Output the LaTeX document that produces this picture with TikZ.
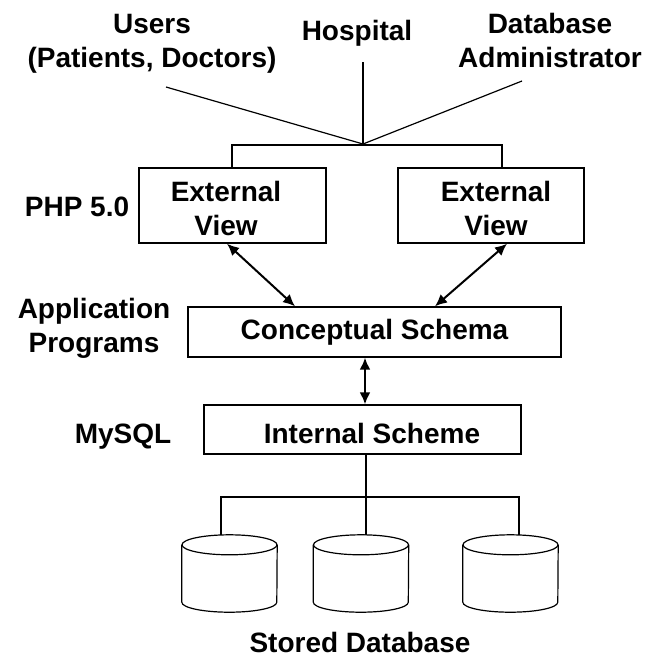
\documentclass[tikz,border=0pt]{standalone}
\usepackage{fontspec}
\setmainfont{Liberation Sans}
\usetikzlibrary{arrows.meta}
\begin{document}
\begin{tikzpicture}[x=1pt,y=-1pt,
  lbl/.style={font=\fontsize{28}{34}\selectfont\bfseries, inner sep=0pt, align=center},
  box/.style={draw, line width=1.4pt, inner sep=0pt, align=center, font=\fontsize{28}{33}\selectfont\bfseries},
  link/.style={line width=1.2pt},
  dlink/.style={line width=2pt, {Latex[length=12pt,width=11pt]}-{Latex[length=12pt,width=11pt]}},
  dbshape/.style={inner sep=0pt, minimum width=95pt, minimum height=77pt},
  cyl/.style={line width=1.2pt}]
\useasboundingbox (0,0) rectangle (661,657);

% top labels (base = baseline of the last line)
\node[lbl, anchor=base] (users) at (152,67) {Users\\(Patients, Doctors)};
\node[lbl, anchor=base] (hospital) at (357,40) {Hospital};
\node[lbl, anchor=base] (dba) at (550,67) {Database\\Administrator};

% side labels
\node[lbl, anchor=base] (php) at (77,216) {PHP 5.0};
\node[lbl, anchor=base] (apps) at (94,352) {Application\\Programs};
\node[lbl, anchor=base] (mysql) at (123,443) {MySQL};

% boxes
\node[box, minimum width=187pt, minimum height=75pt] (ext1) at (232.5,205.5) {};
\node[box, minimum width=186pt, minimum height=75pt] (ext2) at (491,205.5) {};
\node[lbl, anchor=base] (ext1t) at (226,235) {External\\View};
\node[lbl, anchor=base] (ext2t) at (496,235) {External\\View};
\node[box, minimum width=373pt, minimum height=50pt] (concept) at (374.5,332) {Conceptual Schema};
\node[box, minimum width=317pt, minimum height=49pt] (ischema) at (362.5,429.5) {};
\node[lbl, anchor=base] (ischemat) at (372,443) {Internal Scheme};

% databases
\node[dbshape] (db1) at (229.5,573.5) {};
\node[dbshape] (db2) at (361,573.5) {};
\node[dbshape] (db3) at (510.5,573.5) {};
\foreach \n in {db1,db2,db3}{
  \draw[cyl] ([yshift=-10pt]\n.north west) -- ([yshift=10pt]\n.south west)
    arc[start angle=180, end angle=0, x radius=47.5, y radius=10]
    -- ([yshift=-10pt]\n.north east);
  \draw[cyl] ([yshift=-10pt]\n.north) ellipse[x radius=47.5, y radius=10];
}
\node[lbl, anchor=base] (stored) at (360,652) {Stored Database};

% top connectors
\coordinate (junc) at (363,144);
\coordinate (uend) at (166,87);
\coordinate (hend) at (363,62);
\coordinate (dend) at (522,81);
\draw[link] (uend) -- (junc);
\draw[link] (hend) -- (junc);
\draw[link] (dend) -- (junc);
\coordinate (bl) at (232,145);
\coordinate (br) at (502,145);
\draw[link] (ext1.north -| bl) -- (bl) -- (br) -- (ext2.north -| br);

% arrows
\draw[dlink] ([xshift=-5.5pt]ext1.south) -- ([xshift=-79.5pt]concept.north);
\draw[dlink] ([xshift=16pt]ext2.south) -- ([xshift=60.5pt]concept.north);
\draw[dlink] ([xshift=-9.5pt]concept.south) -- ([xshift=-9.5pt]concept.south |- ischema.north);

% bottom connectors
\coordinate (hub) at (366,497);
\draw[link] (ischema.south -| hub) -- (hub);
\draw[link] (hub) -| ([xshift=-8.5pt]db1.north);
\draw[link] (hub) -| ([xshift=8.5pt]db3.north);
\draw[link] (hub) -- (hub |- db2.north);
\end{tikzpicture}
\end{document}
